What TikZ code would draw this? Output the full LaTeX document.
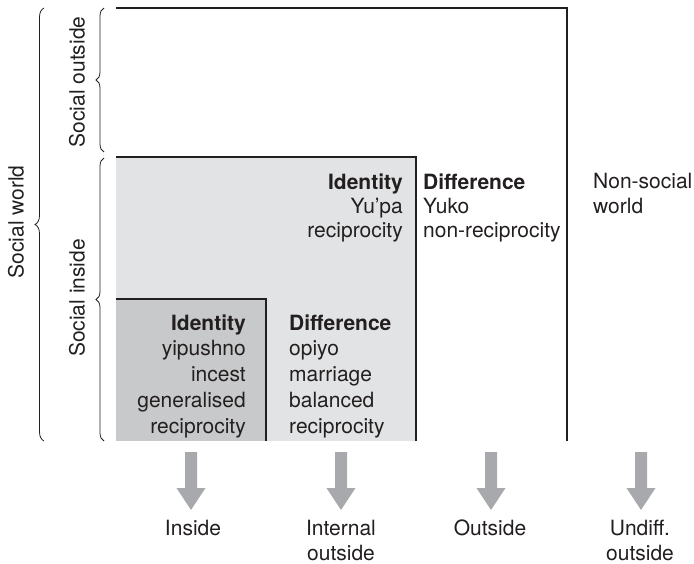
\documentclass[tikz,border=0pt]{standalone}
\usepackage{fontspec}
\setmainfont{TeX Gyre Heros}
\usetikzlibrary{decorations.pathreplacing}
\definecolor{lightbox}{HTML}{E2E3E4}
\definecolor{darkbox}{HTML}{C8C9CA}
\definecolor{arrowgrey}{HTML}{A7A9AC}
\definecolor{ink}{HTML}{231F20}
\begin{document}
\begin{tikzpicture}[x=1pt,y=-1pt,
  font=\fontsize{21}{25}\selectfont,
  every node/.style={text=ink, inner sep=0pt},
  frame/.style={draw=ink, line width=1.4pt},
  bracelines/.style={draw=ink, line width=0.8pt, decorate,
    decoration={brace, amplitude=#1}},
  blockarrow/.style={fill=arrowgrey}]
\useasboundingbox (0,0) rectangle (694,564);
% boxes
\fill[lightbox] (116,157) rectangle (416,441);
\fill[darkbox] (116,299) rectangle (266,441);
\coordinate (otl) at (116,8);
\coordinate (otr) at (567,8);
\coordinate (obr) at (567,441);
\coordinate (mtl) at (116,157);
\coordinate (mtr) at (416,157);
\coordinate (mbr) at (416,441);
\coordinate (itl) at (116,299);
\coordinate (itr) at (266,299);
\coordinate (ibr) at (266,441);
\draw[frame] (otl) -- (otr) -- (obr);
\draw[frame] (mtl) -- (mtr) -- (mbr);
\draw[frame] (itl) -- (itr) -- (ibr);
% braces
\coordinate (swb) at (44,441);
\coordinate (swt) at (44,8);
\coordinate (sob) at (104,152);
\coordinate (sot) at (104,8);
\coordinate (sib) at (104,441);
\coordinate (sit) at (104,158);
\draw[bracelines=9pt] (swb) -- (swt);
\draw[bracelines=8pt] (sob) -- (sot);
\draw[bracelines=8pt] (sib) -- (sit);
\node[rotate=90] (sw) at (16,222) {Social world};
\node[rotate=90] (so) at (77,82) {Social outside};
\node[rotate=90] (si) at (77,298) {Social inside};
% texts (anchored at the baseline of their last line)
\node[anchor=base east, align=right, font=\fontsize{21}{24}\selectfont] (id1) at (403,238) {\textbf{Identity}\\Yu’pa\\reciprocity};
\node[anchor=base west, align=left, font=\fontsize{21}{24}\selectfont] (df1) at (423,238) {\textbf{Difference}\\Yuko\\non-reciprocity};
\node[anchor=base west, align=left] (ns) at (593,214) {Non-social\\world};
\node[anchor=base east, align=right, font=\fontsize{21}{25.75}\selectfont] (id2) at (246,433) {\textbf{Identity}\\yipushno\\incest\\generalised\\reciprocity};
\node[anchor=base west, align=left, font=\fontsize{21}{25.75}\selectfont] (df2) at (289,433) {\textbf{Difference}\\opiyo\\marriage\\balanced\\reciprocity};
% arrows
\foreach \x/\n in {191/a1,341/a2,491/a3,641/a4}{
  \coordinate (\n) at (\x,452);
  \fill[blockarrow] ([xshift=-6pt]\n) -- ([xshift=6pt]\n) -- ([xshift=6pt,yshift=-36pt]\n)
    -- ([xshift=14.5pt,yshift=-36pt]\n) -- ([yshift=-58pt]\n) -- ([xshift=-14.5pt,yshift=-36pt]\n)
    -- ([xshift=-6pt,yshift=-36pt]\n) -- cycle;
}
\node[anchor=base, align=center] (l1) at (193,535) {Inside};
\node[anchor=base, align=center] (l2) at (341,560) {Internal\\outside};
\node[anchor=base, align=center] (l3) at (490,535) {Outside};
\node[anchor=base, align=center] (l4) at (640,560) {Undiff.\\outside};
\end{tikzpicture}
\end{document}
